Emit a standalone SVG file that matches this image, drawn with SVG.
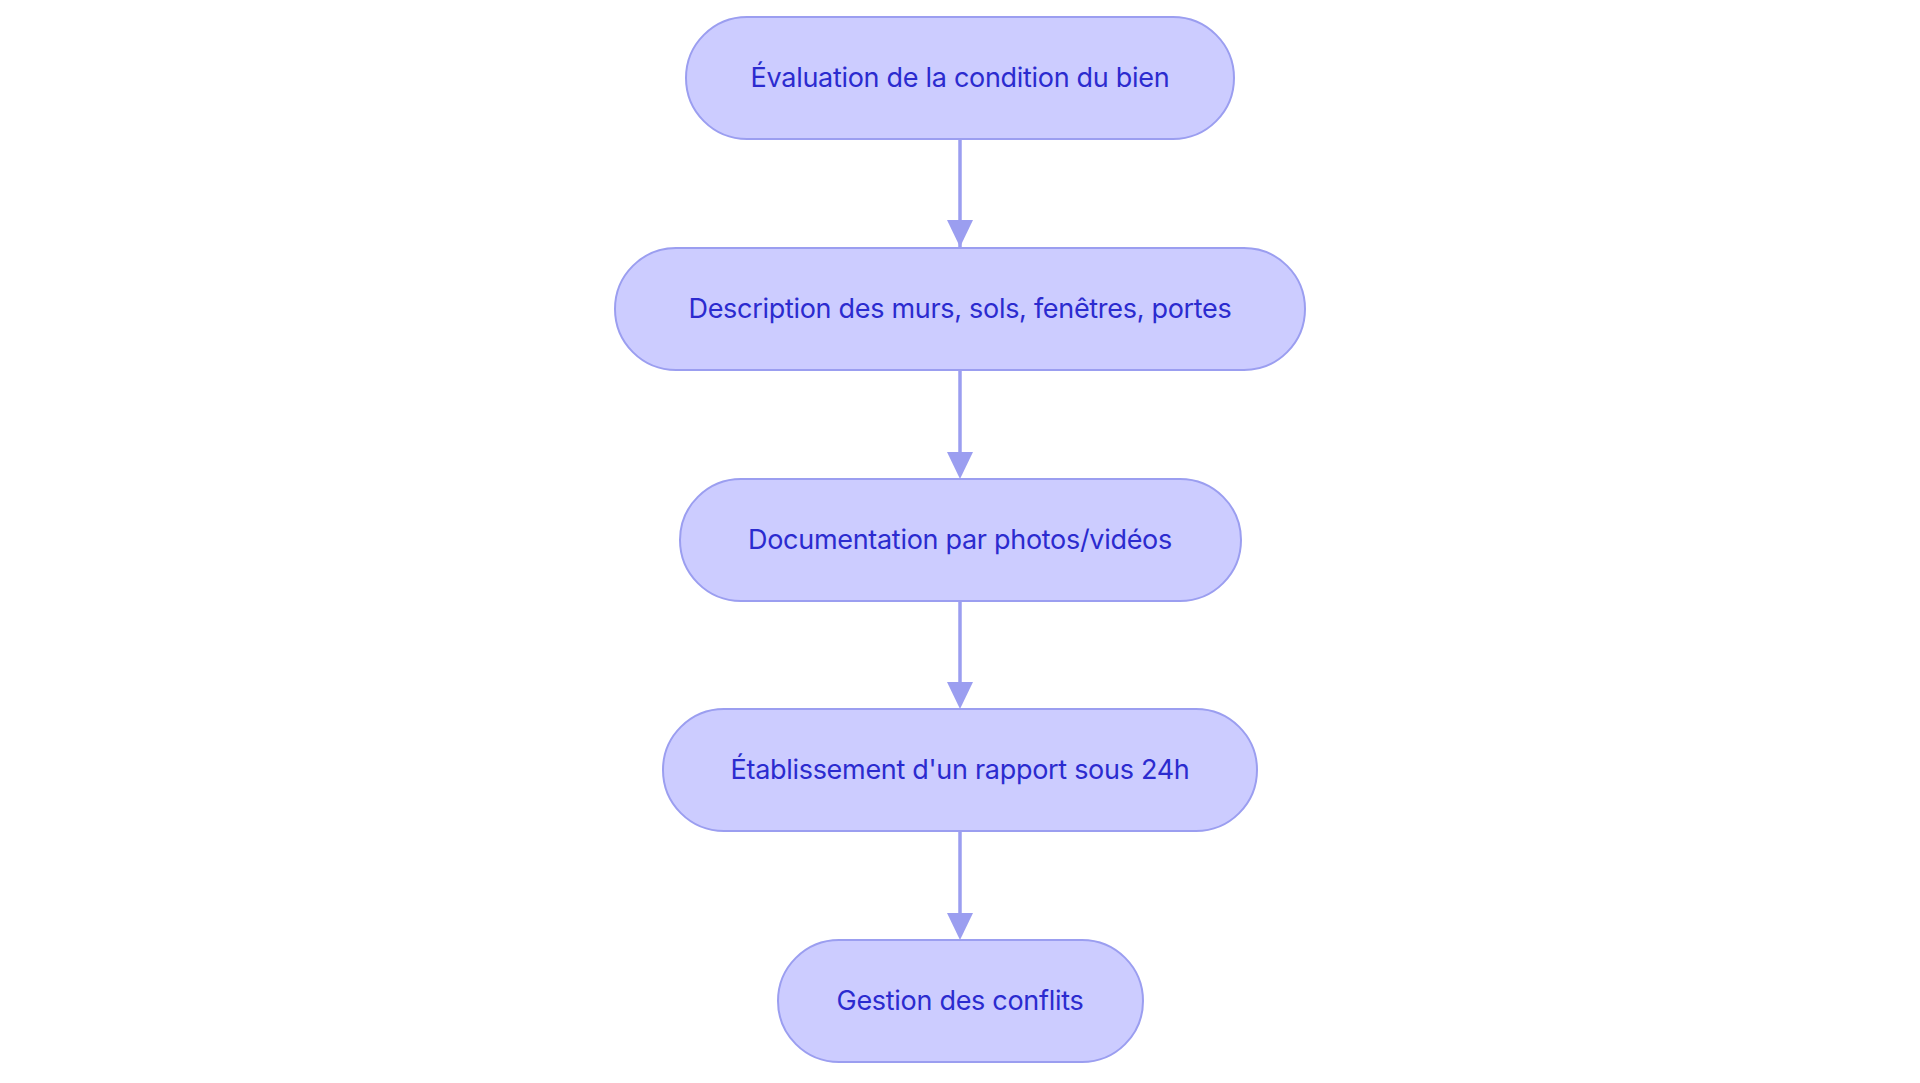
<svg xmlns="http://www.w3.org/2000/svg" width="1920" height="1083" viewBox="0 0 1920 1083">
<style>
.n rect{fill:#ccccff;stroke:#9b9ef0;stroke-width:2}
.n text{font-family:Inter,"Liberation Sans",sans-serif;font-size:27px;fill:#2b2bcf;text-anchor:middle;dominant-baseline:central;letter-spacing:-0.3px}
.c line{stroke:#9b9ef0;stroke-width:3.5}
</style>
<defs><marker id="a" viewBox="0 0 10 10" refX="10" refY="5" markerWidth="7" markerHeight="7" markerUnits="userSpaceOnUse" orient="auto"><path d="M0,0L10,5L0,10z" fill="#9b9ef0"/></marker></defs>
<rect width="1920" height="1083" fill="#fff"/>
<g class="c">
<line x1="960" y1="138" x2="960" y2="247" marker-end="url(#a)" style="marker-end:none"/>
<path d="M947,220L973,220L960,247z" fill="#9b9ef0"/>
<line x1="960" y1="370" x2="960" y2="453"/>
<path d="M947,452L973,452L960,479z" fill="#9b9ef0"/>
<line x1="960" y1="600" x2="960" y2="683"/>
<path d="M947,682L973,682L960,709z" fill="#9b9ef0"/>
<line x1="960" y1="831" x2="960" y2="914"/>
<path d="M947,913L973,913L960,940z" fill="#9b9ef0"/>
</g>
<g id="n1" class="n"><rect x="686" y="17" width="548" height="122" rx="61"/><text x="960" y="77">Évaluation de la condition du bien</text></g>
<g id="n2" class="n"><rect x="615" y="248" width="690" height="122" rx="61"/><text x="960" y="308">Description des murs, sols, fenêtres, portes</text></g>
<g id="n3" class="n"><rect x="680" y="479" width="561" height="122" rx="61"/><text x="960" y="539">Documentation par photos/vidéos</text></g>
<g id="n4" class="n"><rect x="663" y="709" width="594" height="122" rx="61"/><text x="960" y="769">Établissement d'un rapport sous 24h</text></g>
<g id="n5" class="n"><rect x="778" y="940" width="365" height="122" rx="61"/><text x="960" y="1000">Gestion des conflits</text></g>
</svg>
